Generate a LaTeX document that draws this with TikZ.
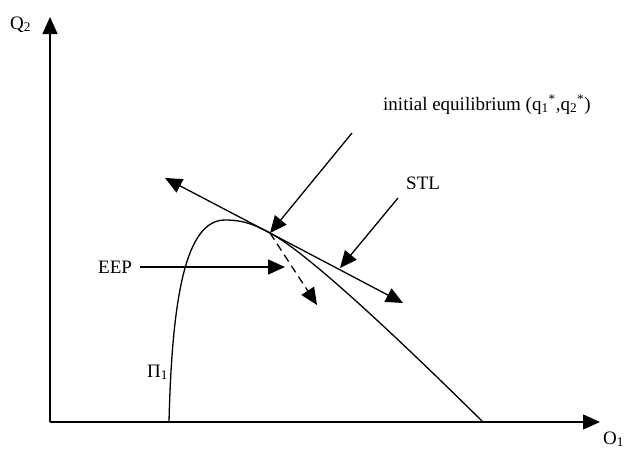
\documentclass[tikz,border=0pt]{standalone}
\usepackage{fontspec}
\setmainfont{Liberation Serif}
\usetikzlibrary{arrows.meta, positioning, calc}

\begin{document}
\begin{tikzpicture}[x=1pt, y=-1pt,
		bigArrow/.style={line width=1.3pt, -{Triangle[length=17pt, width=15pt]}},
		curveLine/.style={line width=1.3pt},
		lbl/.style={font=\fontsize{19}{23}\selectfont, inner sep=0pt}]
				\useasboundingbox (0,0) rectangle (629,450);
				% axes
				\coordinate (origin) at (50,422);
				\coordinate (yTop) at (50,17);
				\coordinate (xEnd) at (600,422);
				\draw[bigArrow] (origin) -- (yTop);
				\draw[bigArrow] (origin) -- (xEnd);
				\node[lbl, anchor=base west] (qTwo) at (10,29) {Q\textsubscript{2}};
				\node[lbl, anchor=base west] (oOne) at (603,444) {O\textsubscript{1}};
				% profit curve
				\coordinate (eqPt) at (270,233);
				\draw[curveLine] (169,422) .. controls (172,300) and (185,220) .. (225,220)
					.. controls (245,220) and (256,225.6) .. (eqPt)
					.. controls (310,254) and (410,350) .. (483,422);
				\node[lbl, anchor=base west] (piOne) at (147,377) {Π\textsubscript{1}};
				% tangent line and dashed direction
				\coordinate (tlUp) at (165,178);
				\coordinate (tlDown) at (403,303);
				\draw[bigArrow] (eqPt) -- (tlUp);
				\draw[bigArrow] (eqPt) -- (tlDown);
				\coordinate (dashEnd) at (317,305);
				\draw[bigArrow, dash pattern=on 8pt off 5pt] (eqPt) -- (dashEnd);
				% labels with pointers
				\node[lbl, anchor=base west] (initLbl) at (383,110) {initial equilibrium (q\textsubscript{1}\textsuperscript{*},q\textsubscript{2}\textsuperscript{*})};
				\coordinate (initFoot) at (352,133);
				\draw[bigArrow] (initFoot) -- (eqPt);
				\node[lbl, anchor=base west] (stl) at (406,189) {STL};
				\coordinate (stlFoot) at (398,198);
				\coordinate (stlTip) at (340,268);
				\draw[bigArrow] (stlFoot) -- (stlTip);
				\node[lbl, anchor=base west] (eep) at (98,273) {EEP};
				\coordinate (eepFoot) at (140,267);
				\coordinate (eepTip) at (285,267);
				\draw[bigArrow] (eepFoot) -- (eepTip);
			\end{tikzpicture}
\end{document}
